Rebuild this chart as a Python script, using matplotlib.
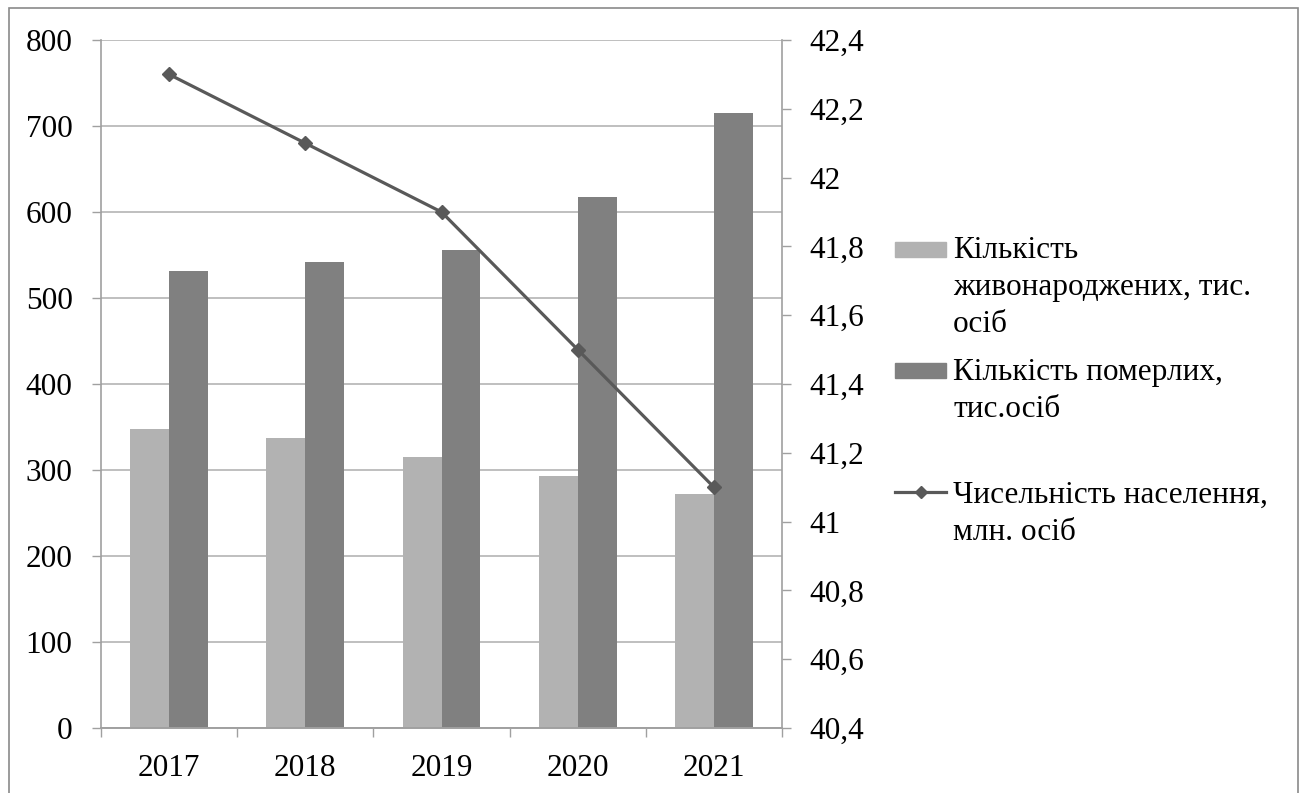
import matplotlib.pyplot as plt
from matplotlib.patches import Rectangle
from matplotlib.lines import Line2D
from matplotlib.ticker import FixedLocator, FuncFormatter

plt.rcParams['font.family'] = ['Liberation Serif', 'DejaVu Serif']

years = ['2017', '2018', '2019', '2020', '2021']
born = [348, 337, 315, 293, 272]        # тис. осіб
died = [531, 542, 556, 617, 715]        # тис. осіб
population = [42.3, 42.1, 41.9, 41.5, 41.1]  # млн. осіб

legend_lines = [
    ['Кількість', 'живонароджених, тис.', 'осіб'],
    ['Кількість померлих,', 'тис.осіб'],
    ['Чисельність населення,', 'млн. осіб'],
]

c_light = '#b2b2b2'
c_dark = '#808080'
c_line = '#595959'
c_grid = '#b4b4b4'
c_axis = '#a0a0a0'
fs = 22.5

W, H = 1306, 793
fig = plt.figure(figsize=(W / 100, H / 100), dpi=100)

def fx(px):
    return px / W

def fy(py):
    return 1 - py / H

# outer frame
fig.patches.append(Rectangle((fx(9), fy(900)), fx(1298) - fx(9), fy(8) - fy(900),
                             transform=fig.transFigure, fill=False,
                             edgecolor='#8a8a8a', linewidth=1.2))

ax = fig.add_axes([fx(101), fy(728), fx(782) - fx(101), fy(40) - fy(728)])
ax2 = ax.twinx()

x = list(range(len(years)))
bw = 1 / 3.5
ax.bar([i - bw / 2 for i in x], born, width=bw, color=c_light, zorder=2)
ax.bar([i + bw / 2 for i in x], died, width=bw, color=c_dark, zorder=2)

ax.set_ylim(0, 800)
ax.set_xlim(-0.5, len(years) - 0.5)
ax.set_yticks(range(0, 801, 100))
ax.yaxis.grid(True, color=c_grid, linewidth=1.2, zorder=0)
ax.set_axisbelow(True)

ax.xaxis.set_major_locator(FixedLocator([i - 0.5 for i in range(len(years) + 1)]))
ax.xaxis.set_major_formatter(FuncFormatter(lambda v, p: ''))
ax.xaxis.set_minor_locator(FixedLocator(x))
ax.set_xticklabels(years, minor=True)
ax.tick_params(axis='x', which='minor', length=0, pad=18.5, labelsize=fs)
ax.tick_params(axis='x', which='major', length=6.5, color=c_axis, width=1)
ax.tick_params(axis='y', length=6.5, color=c_axis, width=1, pad=14, labelsize=fs)

ax2.plot(x, population, color=c_line, linewidth=2.3, marker='D',
         markersize=7.5, zorder=5)
ax2.set_ylim(40.4, 42.4)
ax2.set_yticks([40.4 + 0.2 * i for i in range(11)])
ax2.yaxis.set_major_formatter(FuncFormatter(
    lambda v, p: ('%g' % round(v, 1)).replace('.', ',')))
ax2.tick_params(axis='y', length=6.5, color=c_axis, width=1, pad=13, labelsize=fs)

for a in (ax, ax2):
    a.spines['top'].set_visible(False)
    for s in ('left', 'right', 'bottom'):
        a.spines[s].set_color(c_axis)
        a.spines[s].set_linewidth(1.2)
ax2.spines['left'].set_visible(False)
ax.spines['right'].set_visible(False)

# legend drawn at figure level
baselines = [[258, 295, 332], [380, 417], [503, 540]]
text_x = 953
fig.patches.append(Rectangle((fx(895), fy(257)), fx(946) - fx(895), fy(242) - fy(257),
                             transform=fig.transFigure, color=c_light))
fig.patches.append(Rectangle((fx(895), fy(378)), fx(946) - fx(895), fy(363) - fy(378),
                             transform=fig.transFigure, color=c_dark))
fig.lines.append(Line2D([fx(895), fx(946)], [fy(492), fy(492)],
                        transform=fig.transFigure, color=c_line, linewidth=2.3))
fig.lines.append(Line2D([fx(920.5)], [fy(492)], transform=fig.transFigure,
                        color=c_line, marker='D', markersize=6))
for lines, ys in zip(legend_lines, baselines):
    for t, yb in zip(lines, ys):
        fig.text(fx(text_x), fy(yb), t, fontsize=fs, va='baseline', ha='left')

fig.savefig('out.png', dpi=100)
